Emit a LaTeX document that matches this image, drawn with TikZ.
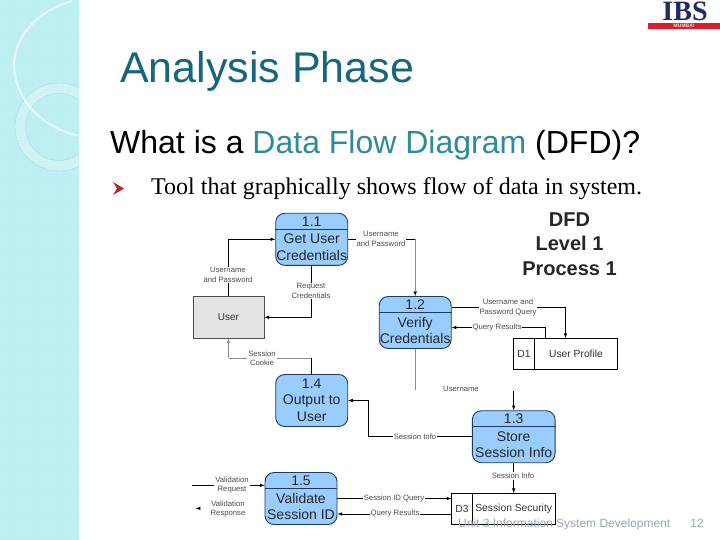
\documentclass[tikz,border=0pt]{standalone}
\usepackage{fontspec}
\setmainfont{Liberation Sans}
\newfontfamily\serifface{Liberation Serif}
\usetikzlibrary{patterns}
\definecolor{stripcol}{HTML}{BCEEF1}
\definecolor{ringcol}{HTML}{CDF3F5}
\definecolor{ringline}{HTML}{A5DDE2}
\definecolor{proccol}{HTML}{99CCFF}
\definecolor{proclinecol}{HTML}{1F3A5F}
\definecolor{titlecol}{HTML}{17657F}
\definecolor{accentcol}{HTML}{2F8A9E}
\definecolor{footcol}{HTML}{9AA8AC}
\definecolor{logocol}{HTML}{1F2A6B}
\definecolor{barcol}{HTML}{D8202C}
\tikzset{
  procbox/.style={draw=proclinecol, fill=proccol, rounded corners=9pt, line width=0.9pt, minimum width=72pt, minimum height=52pt, inner sep=0pt},
  procline/.style={draw=proclinecol, line width=0.8pt},
  proctext/.style={font=\fontsize{14}{16.4}\selectfont, align=center, inner sep=0pt, text=black!85},
  storebox/.style={draw=black, fill=white, line width=0.6pt, minimum height=31pt, inner sep=0pt, font=\fontsize{10.3}{12}\selectfont, text=black!80},
  flow/.style={draw=black, line width=0.6pt, -latex},
  flowgrey/.style={draw=black!45, line width=0.6pt},
  flowlabel/.style={font=\fontsize{7.7}{9.3}\selectfont, align=center, fill=white, inner sep=1pt, text=black!70}
}
\begin{document}
\begin{tikzpicture}[x=1pt, y=-1pt]
\useasboundingbox (0,0) rectangle (720,540);
\fill [white] (0,0) rectangle (720,540);
% left strip
\begin{scope}
\clip (0,0) rectangle (79,540);
\fill [stripcol] (0,0) rectangle (79,540);
\fill [ringcol] (0,0) -- (65,0) arc [start angle=0, end angle=90, x radius=65, y radius=-63] -- cycle;
\fill [ringcol, even odd rule] (59,127) circle (44) (59,127) circle (33.5);
\draw [ringline, line width=0.4pt] (59,127) circle (44) (59,127) circle (33.5);
\draw [white, opacity=0.55, line width=2.2pt] (72,1) .. controls (25,15) and (10,50) .. (15,75) .. controls (20,105) and (45,128) .. (79,136);
\fill [pattern=crosshatch dots, pattern color=white, opacity=0.25] (0,0) rectangle (79,540);
\end{scope}
% logo
\node [anchor=base, inner sep=0pt, font=\serifface\bfseries\fontsize{28}{28}\selectfont, text=logocol] (logotext) at (685,20.5) {IBS};
\node [fill=barcol, minimum width=72pt, minimum height=6.4pt, inner sep=0pt, font=\bfseries\fontsize{5}{5}\selectfont, text=white!85!barcol] (logobar) at (684,26.2) {MUMBAI};
% headings
\node [anchor=base west, inner sep=0pt, font=\fontsize{43}{46}\selectfont, text=titlecol] (title) at (120,83) {Analysis Phase};
\node [anchor=base west, inner sep=0pt, font=\fontsize{32}{36}\selectfont] (question) at (110,154) {What is a \textcolor{accentcol}{Data Flow Diagram} (DFD)?};
\fill [red!65!black!85] (113,182) -- (124,188.5) -- (113,195) -- (117,188.5) -- cycle;
\node [anchor=base west, inner sep=0pt, font=\serifface\fontsize{24}{28}\selectfont] (tooltext) at (151,195) {Tool that graphically shows flow of data in system.};
\node [align=center, inner sep=0pt, font=\bfseries\fontsize{20}{24.6}\selectfont, text=black!85] (dfdtitle) at (569.5,244) {DFD\\Level 1\\Process 1};
% processes
\node [procbox] (p11) at (311.7,239.3) {};
\node [procbox] (p12) at (415.2,322.5) {};
\node [procbox] (p13) at (513.7,436.7) [minimum width=82.7pt] {};
\node [procbox] (p14) at (311.7,400.5) {};
\node [procbox] (p15) at (301,498.5) {};
\draw [procline] (p11.west |- 0,229.3) -- (p11.east |- 0,229.3);
\draw [procline] (p12.west |- 0,312.5) -- (p12.east |- 0,312.5);
\draw [procline] (p13.west |- 0,426) -- (p13.east |- 0,426);
\draw [procline] (p15.west |- 0,488.5) -- (p15.east |- 0,488.5);
\node [proctext] (p11num) at (311.7,221.5) {1.1};
\node [proctext] (p11txt) at (311.7,247.2) {Get User\\Credentials};
\node [proctext] (p12num) at (415.2,305) {1.2};
\node [proctext] (p12txt) at (415.2,330.5) {Verify\\Credentials};
\node [proctext] (p13num) at (513.7,419) {1.3};
\node [proctext] (p13txt) at (513.7,444.5) {Store\\Session Info};
\node [proctext] (p14txt) at (311.7,400) {1.4\\Output to\\User};
\node [proctext] (p15num) at (301,481) {1.5};
\node [proctext] (p15txt) at (301,506.5) {Validate\\Session ID};
% entity and stores
\node [draw=black!70, fill=black!11, minimum width=71.6pt, minimum height=42pt, inner sep=0pt, font=\fontsize{10}{12}\selectfont, text=black!80] (user) at (228.5,317.3) {User};
\node [storebox, minimum width=103.6pt] (d1) at (565.5,353.8) {};
\node [storebox, minimum width=20.6pt, anchor=west] (d1id) at (d1.west) {D1};
\node [inner sep=0pt, font=\fontsize{10.3}{12}\selectfont, text=black!80] (d1txt) at (576,353.8) {User Profile};
\node [storebox, minimum width=103.3pt] (d3) at (503.4,508.8) {};
\node [storebox, minimum width=20.6pt, anchor=west] (d3id) at (d3.west) {D3};
\node [inner sep=0pt, font=\fontsize{10.3}{12}\selectfont, text=black!80] (d3txt) at (513.7,508.8) {Session Security};
% flows
\coordinate (p12out) at (415.2,389.5);
\coordinate (p13in) at (513.7,390.5);
\coordinate (reqin) at (192.3,485.3);
\coordinate (resp) at (195.7,508.3);
\coordinate (cookie) at (228.5,358.3);
\draw [flow] (user.north) |- (p11.west);
\draw [flow] (p11.east) -| (p12.north);
\draw [flowgrey] (p11.east -| p12.north) -- (415.2,292);
\draw [flow] (p11.south) |- (user.east);
\draw [flowgrey] (p14.north |- cookie) -- (cookie);
\draw [flow, draw=black!45] (cookie) -- (user.south);
\draw [draw=black, line width=0.6pt] (p14.north) -- (p14.north |- cookie);
\draw [flowgrey] (p12.south) -- (p12out);
\draw [flow] (p13in) -- (p13.north);
\draw [flow] ([yshift=15pt]p12.east) -| (d1.north);
\draw [flow] ([xshift=-20.5pt]d1.north) |- ([yshift=-5pt]p12.east);
\draw [flow] (p13.west) -| (368.7,400.5) -- (p14.east);
\draw [flow] (p13.south) -- (d3.north -| p13.south);
\draw [flow] (reqin) -- (reqin -| p15.west);
\draw [flow] (resp) ++(1.5,0) -- (resp);
\draw [flow] (p15.east) -- (d3.west |- p15.east);
\draw [flow] (d3.west |- 0,514) -- (p15.east |- 0,514);
% labels
\node [flowlabel] (lbluser) at (228,275) {Username\\and Password};
\node [flowlabel] (lblcred) at (381,239) {Username\\and Password};
\node [flowlabel] (lblreq) at (311,291) {Request\\Credentials};
\node [flowlabel] (lblcookie) at (262,358) {Session\\Cookie};
\node [flowlabel] (lblquery) at (508,307.5) {Username and\\Password Query};
\node [flowlabel] (lblresult) at (497,327.5) {Query Results};
\node [flowlabel] (lblname) at (461,389) {Username};
\node [flowlabel] (lblinfoa) at (415,436.5) {Session Info};
\node [flowlabel] (lblinfob) at (513,476) {Session Info};
\node [flowlabel] (lblvalreq) at (232,485) {Validation\\Request};
\node [flowlabel] (lblvalres) at (228,509) {Validation\\Response};
\node [flowlabel] (lblidq) at (394,498.5) {Session ID Query};
\node [flowlabel] (lblqres) at (395,514) {Query Results};
% footer
\node [anchor=base west, inner sep=0pt, font=\fontsize{12}{14}\selectfont, text=footcol] (footer) at (458,527.5) {Unit 3 Information System Development};
\node [anchor=base, inner sep=0pt, font=\fontsize{12}{14}\selectfont, text=footcol] (pagenum) at (697,527.5) {12};
\end{tikzpicture}
\end{document}
